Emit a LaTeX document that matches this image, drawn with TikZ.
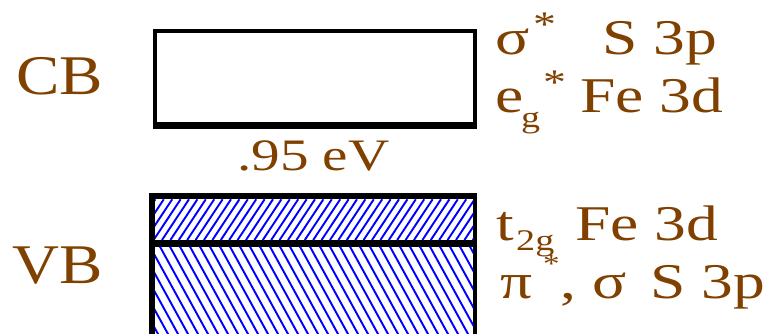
\documentclass[tikz,border=0pt]{standalone}
\usepackage{fontspec}
\newfontfamily\wf[FakeStretch=1.27]{Liberation Serif}
\newfontfamily\wfn[FakeStretch=1.16]{Liberation Serif}
\newcommand\fsz[1]{\fontsize{#1}{#1}\selectfont}
\definecolor{brn}{RGB}{128,64,0}
\definecolor{hb}{RGB}{0,0,255}
\tikzset{
  lbl/.style={inner sep=0pt, anchor=base west, text=brn, font=\wf\fsz{50}},
  big/.style={lbl, font=\wfn\fsz{56}},
  sub/.style={lbl, font=\wf\fsz{30}},
  star/.style={lbl, font=\wf\fsz{36}},
  hatchline/.style={hb, line width=1.9pt}
}
\begin{document}
\begin{tikzpicture}[x=1pt,y=-1pt]
\useasboundingbox (0,0) rectangle (776,334);
\clip (0,0) rectangle (776,334);
% CB box
\fill[black] (152.5,29.3) rectangle (476.7,129.5);
\fill[white] (157.3,33.3) rectangle (472.7,122.5);
% VB boxes
\fill[black] (149.3,193.3) rectangle (476.7,345);
\fill[white] (155,199.3) rectangle (473.3,240);
\fill[white] (155,246.7) rectangle (473.3,345);
\begin{scope}
  \clip (155,199.3) rectangle (473.3,240);
  \foreach \i in {0,...,45} {
    \draw[hatchline] (120+\i*8.4,240) -- (120+\i*8.4+27,199.3);
  }
\end{scope}
\begin{scope}
  \clip (155,246.7) rectangle (473.3,345);
  \foreach \i in {0,...,40} {
    \draw[hatchline] (90+\i*10,246.7) -- (90+\i*10+55,346.7);
  }
\end{scope}
% left labels
\node[big] (cb) at (16,95) {CB};
\node[big] (vb) at (12,283) {VB};
% gap
\node[lbl, font=\wf\fsz{45}] (gap) at (237,170) {.95 eV};
% CB right labels
\node[lbl] (sig1) at (495,55) {σ};
\node[star] (st1) at (533,37) {*};
\node[lbl] (s3p1) at (602,55) {S 3p};
\node[lbl] (eg) at (495,113) {e};
\node[sub] (egs) at (521,128) {g};
\node[star] (st2) at (543,95) {*};
\node[lbl] (fe1) at (580,113) {Fe 3d};
% VB right labels
\node[lbl] (t2g) at (496,240) {t};
\node[sub] (t2gs) at (516,250) {2g};
\node[lbl, font=\wf\fsz{26}] (st3) at (543,272) {*};
\node[lbl] (fe2) at (575,240) {Fe 3d};
\node[lbl] (pi) at (500,298) {π};
\node[lbl] (com) at (560,298) {,};
\node[lbl] (sig2) at (592,298) {σ};
\node[lbl] (s3p2) at (650,298) {S 3p};
\end{tikzpicture}
\end{document}
